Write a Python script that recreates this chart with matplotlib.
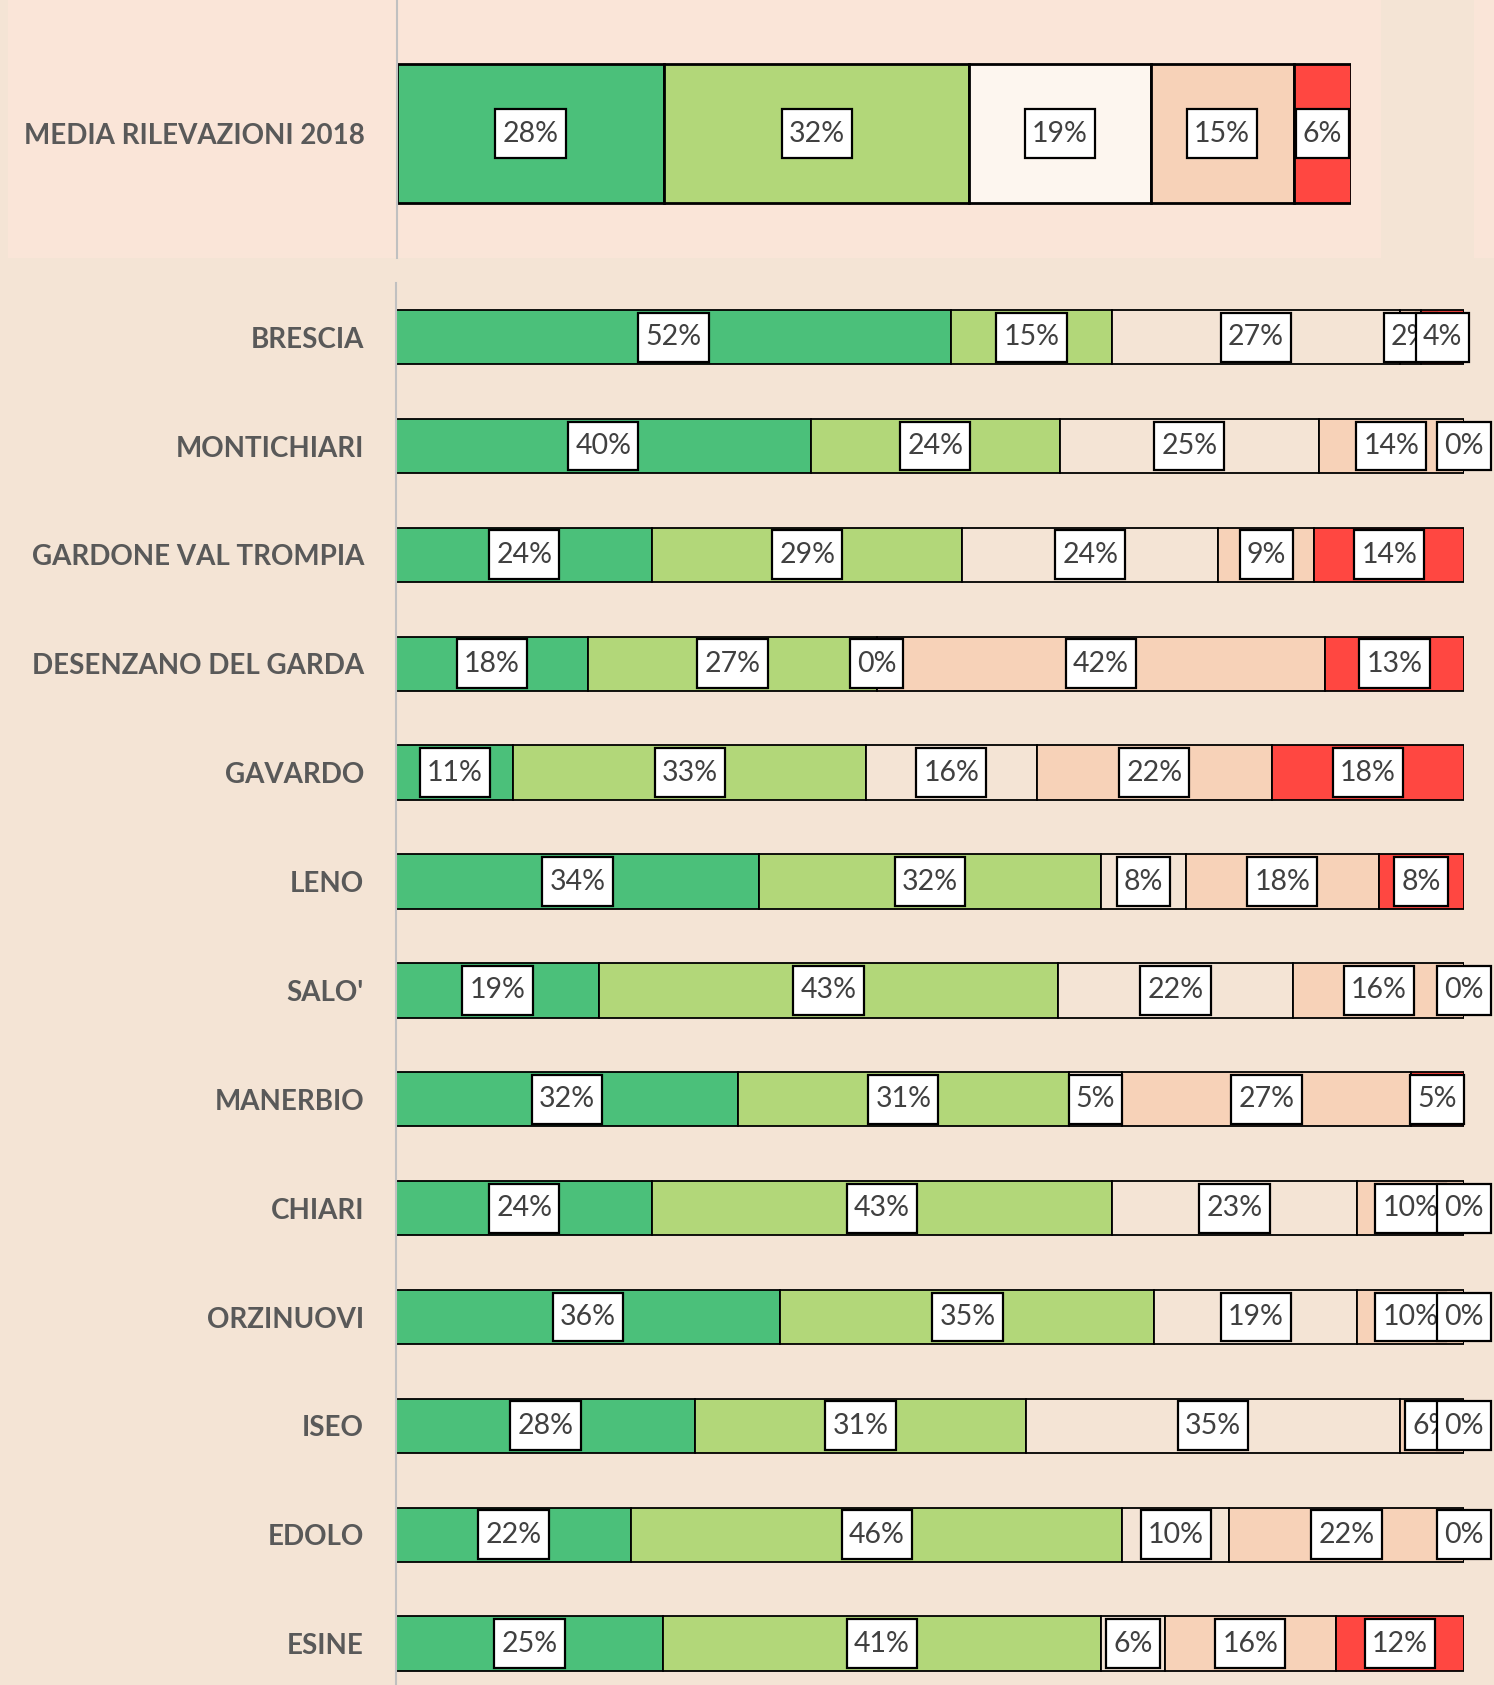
import matplotlib.pyplot as plt
from matplotlib.patches import Rectangle
from matplotlib.path import Path
import numpy as np

# Dati (percentuali come mostrate nelle etichette)
media_label = "MEDIA RILEVAZIONI 2018"
media = [28, 32, 19, 15, 6]

cities = ["BRESCIA", "MONTICHIARI", "GARDONE VAL TROMPIA", "DESENZANO DEL GARDA",
          "GAVARDO", "LENO", "SALO'", "MANERBIO", "CHIARI", "ORZINUOVI",
          "ISEO", "EDOLO", "ESINE"]
verde_scuro = [52, 40, 24, 18, 11, 34, 19, 32, 24, 36, 28, 22, 25]
verde_chiaro = [15, 24, 29, 27, 33, 32, 43, 31, 43, 35, 31, 46, 41]
neutro = [27, 25, 24, 0, 16, 8, 22, 5, 23, 19, 35, 10, 6]
arancio = [2, 14, 9, 42, 22, 18, 16, 27, 10, 10, 6, 22, 16]
rosso = [4, 0, 14, 13, 18, 8, 0, 5, 0, 0, 0, 0, 12]

BG = '#F4E4D5'
PANEL = '#FAE5D8'
colors_top = ['#4BC07A', '#B2D779', '#FDF6EF', '#F7D2B8', '#FF4741']
colors_bot = ['#4BC07A', '#B2D779', BG, '#F7D2B8', '#FF4741']
LABEL_COLOR = '#595959'
TEXT_COLOR = '#404040'

plt.rcParams['font.family'] = ['Lato', 'DejaVu Sans']

W, H = 1494, 1685
fig = plt.figure(figsize=(W / 100, H / 100), dpi=100, facecolor=BG)

# pannello superiore (sfondo leggermente più rosato)
fig.patches.append(Rectangle((8 / W, 1 - 258 / H), (1381 - 8) / W, 258 / H,
                             transform=fig.transFigure, facecolor=PANEL,
                             edgecolor='none', zorder=-5))
fig.patches.append(Rectangle((1474 / W, 1 - 258 / H), 20 / W, 258 / H,
                             transform=fig.transFigure, facecolor=PANEL,
                             edgecolor='none', zorder=-5))


def tall_box(x0, y0, width, height, mutation_size):
    # riquadro etichetta: più padding in verticale che in orizzontale
    px = 0.25 * mutation_size
    py = 0.40 * mutation_size
    return Path([(x0 - px, y0 - py), (x0 + width + px, y0 - py),
                 (x0 + width + px, y0 + height + py), (x0 - px, y0 + height + py),
                 (x0 - px, y0 - py)], closed=True)


def label_box(lw):
    return dict(boxstyle=tall_box, fc='white', ec='black', lw=lw)


def style_axes(ax):
    ax.set_facecolor('none')
    ax.set_zorder(2)
    for s in ['top', 'right', 'bottom']:
        ax.spines[s].set_visible(False)
    ax.spines['left'].set_color('#C0C0C0')
    ax.spines['left'].set_linewidth(1.5)
    ax.set_xticks([])
    ax.tick_params(axis='y', length=0, pad=23)
    ax.set_xlim(0, 1)


# --- grafico superiore: media ---
ax_top = fig.add_axes([397 / W, 1 - 258 / H, (1351 - 397) / W, 258 / H])
style_axes(ax_top)
tot = sum(media)
left = 0
for i, v in enumerate(media):
    w = v / tot
    ax_top.barh(0, w, left=left, height=0.5, color=colors_top[i],
                edgecolor='black', linewidth=2, zorder=2)
    ax_top.text(left + w / 2, 0, f"{v}%", ha='center', va='center',
                fontsize=20.5, color=TEXT_COLOR, zorder=3 + i,
                bbox=label_box(1.6))
    left += w
ax_top.set_ylim(-0.449, 0.483)
ax_top.set_yticks([0])
ax_top.set_yticklabels([media_label], fontsize=20, fontweight='bold',
                       color=LABEL_COLOR)

# --- grafico inferiore: città ---
ax = fig.add_axes([396 / W, 0, (1464 - 396) / W, (H - 282.7) / H])
style_axes(ax)
series = [verde_scuro, verde_chiaro, neutro, arancio, rosso]
data = np.array(series, dtype=float)
totals = data.sum(axis=0)
y = np.arange(len(cities))
lefts = np.zeros(len(cities))
for i, vals in enumerate(series):
    widths = np.array(vals) / totals
    ax.barh(y, widths, left=lefts, height=0.5, color=colors_bot[i],
            edgecolor='black', linewidth=1.3, zorder=2)
    for j, v in enumerate(vals):
        ax.text(lefts[j] + widths[j] / 2, y[j], f"{v}%", ha='center',
                va='center', fontsize=20.5, color=TEXT_COLOR, zorder=3 + i,
                bbox=label_box(1.6))
    lefts += widths
ax.set_ylim(12.38, -0.5)
ax.set_yticks(y)
ax.set_yticklabels(cities, fontsize=20, fontweight='bold', color=LABEL_COLOR)

fig.savefig('out.png', dpi=100, facecolor=BG)
